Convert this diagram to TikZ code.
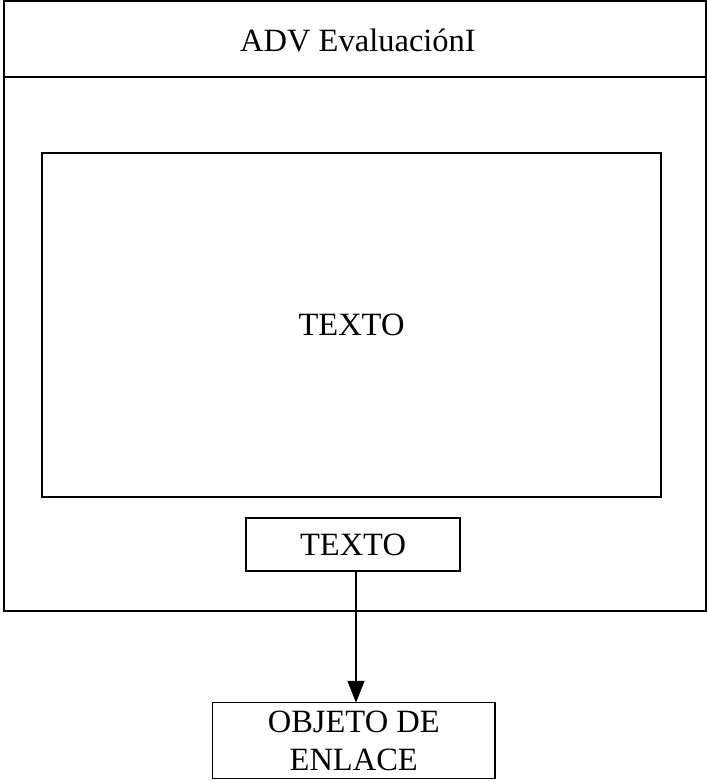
\documentclass[tikz,border=0pt]{standalone}
\usepackage{fontspec}
\setmainfont{Liberation Serif}
\usetikzlibrary{arrows.meta}
\begin{document}
\begin{tikzpicture}[x=1pt,y=-1pt,
  box/.style={draw=black,line width=1.4pt,inner sep=0pt,outer sep=0pt,align=center,
    font=\fontsize{32.5}{38}\selectfont},
  lbl/.style={inner sep=0pt,font=\fontsize{32.5}{38}\selectfont},
  conn/.style={line width=1.4pt,-{Triangle[length=22pt,width=17pt]}}]
\useasboundingbox (0,0) rectangle (707,782);
\node[box,minimum width=702pt,minimum height=610pt] (outer) at (355,306) {};
\coordinate (divy) at (0,77);
\draw[line width=1.4pt] (outer.west |- divy) -- (outer.east |- divy);
\node[lbl] (title) at (358,40) {ADV EvaluaciónI};
\node[box,minimum width=619pt,minimum height=344pt] (inner) at (351.5,325) {TEXTO};
\node[box,minimum width=214pt,minimum height=53pt] (small) at (353,544.5) {TEXTO};
\node[box,minimum width=282.5pt,minimum height=75.5pt] (obj) at (353.75,740.5) {OBJETO DE\\ENLACE};
\coordinate (ax) at (356,0);
\draw[conn] (small.south -| ax) -- (obj.north -| ax);
\end{tikzpicture}
\end{document}
